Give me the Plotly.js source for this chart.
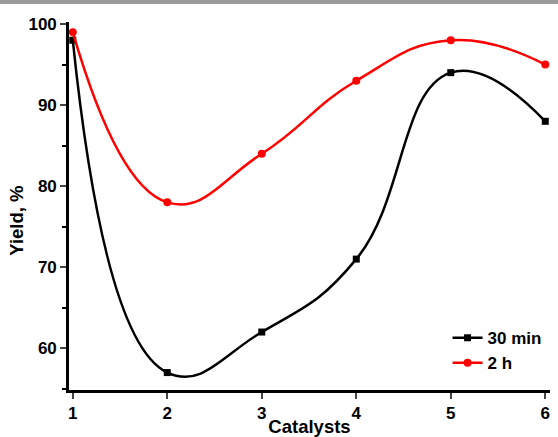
<!DOCTYPE html>
<html><head><meta charset="utf-8">
<script src="https://cdn.plot.ly/plotly-3.0.1.min.js"></script>
<style>body{margin:0;background:#fff}#bar{position:absolute;left:0;top:0;width:558px;height:4px;background:#9a9a9a;z-index:5}#chart{width:558px;height:437px}</style>
</head><body><div id="bar"></div><div id="chart"></div>
<script>
const catalysts = [1, 2, 3, 4, 5, 6];
const yield30min = [98, 57, 62, 71, 94, 88];
const yield2h = [99, 78, 84, 93, 98, 95];
const seriesNames = ['30 min', '2 h'];

const traces = [
  {x: catalysts, y: yield30min, name: seriesNames[0], mode: 'lines+markers',
   line: {color: '#000', width: 2.5, shape: 'spline', smoothing: 1.3},
   marker: {symbol: 'square', size: 7, color: '#000'}},
  {x: catalysts, y: yield2h, name: seriesNames[1], mode: 'lines+markers',
   line: {color: '#ff0000', width: 2.5, shape: 'spline', smoothing: 1.3},
   marker: {symbol: 'circle', size: 8, color: '#ff0000'}}
];
const fam = 'Liberation Sans, Arial, sans-serif';
const layout = {
  width: 558, height: 437,
  margin: {l: 69, r: 8, t: 22, b: 47},
  paper_bgcolor: '#fff', plot_bgcolor: '#fff',
  font: {family: fam, size: 16, color: '#000', weight: 'bold'},
  showlegend: true,
  legend: {x: 0.787, y: 0.19, xanchor: 'left', yanchor: 'top', bgcolor: 'rgba(0,0,0,0)',
           font: {family: fam, size: 17, color: '#000', weight: 'bold'}, tracegroupgap: 0},
  xaxis: {range: [0.96, 6.05], tickvals: catalysts, ticks: 'outside', ticklen: 6, tickwidth: 2,
          showline: true, linewidth: 2.8, linecolor: '#000', showgrid: false, zeroline: false,
          tickfont: {family: fam, size: 17, weight: 'bold'},
          title: {text: 'Catalysts', standoff: 1, font: {family: fam, size: 18.5, weight: 'bold'}}},
  yaxis: {range: [54.85, 100.25], tickvals: [60, 70, 80, 90, 100], ticks: 'outside', ticklen: 6, tickwidth: 2,
          minor: {tickvals: [55, 65, 75, 85, 95], ticks: 'outside', ticklen: 4, tickwidth: 2, tickcolor: '#000'},
          showline: true, linewidth: 2.8, linecolor: '#000', showgrid: false, zeroline: false,
          tickfont: {family: fam, size: 17, weight: 'bold'}},
  annotations: [{text: 'Yield, %', xref: 'paper', yref: 'paper', x: -0.108, y: 0.46,
                 xanchor: 'center', yanchor: 'middle', textangle: -90, showarrow: false,
                 font: {family: fam, size: 18.5, color: '#000', weight: 'bold'}}]
};
Plotly.newPlot('chart', traces, layout, {displayModeBar: false, staticPlot: true});
</script></body></html>
